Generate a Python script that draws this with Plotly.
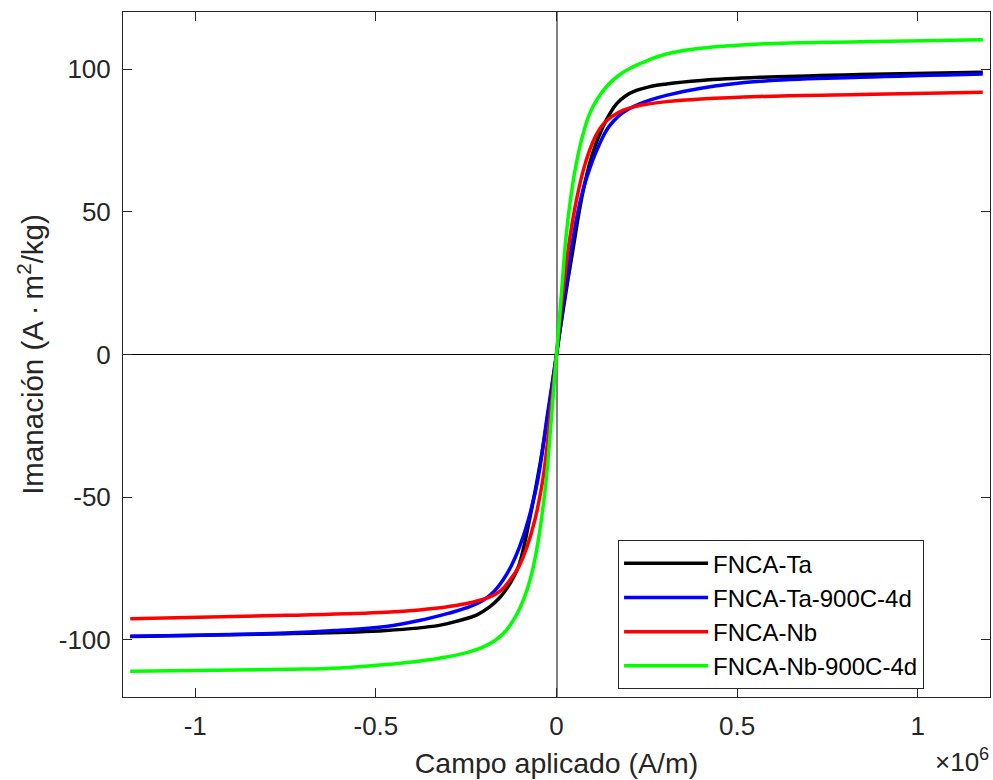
import numpy as np
import plotly.graph_objects as go

# Applied field H in units of 10^6 A/m, magnetization M in A·m²/kg
ta_H = [-1.18, -0.75, -0.472, -0.3245, -0.269, -0.22, -0.186, -0.16, -0.135, -0.12, -0.1026, -0.075,
        -0.045, -0.02, 0.0,
        0.02, 0.045, 0.07, 0.0915, 0.108, 0.124, 0.145, 0.166, 0.19, 0.221, 0.26, 0.304, 0.4, 0.563, 0.84, 1.18]
ta_M = [-98.8, -97.8, -96.7, -94.9, -93.2, -91.2, -88.5, -85.6, -81.5, -78.3, -73.3, -58.0,
        -38.0, -18.0, 0.0,
        17.0, 36.4, 55.0, 66.8, 73.5, 78.5, 83.8, 87.8, 90.5, 92.5, 93.9, 94.8, 96.0, 97.1, 98.1, 98.9]

ta900_H = [-1.18, -0.75, -0.6, -0.472, -0.38, -0.3, -0.25, -0.204, -0.175, -0.149, -0.125, -0.1026,
           -0.077, -0.052, -0.025, 0.0,
           0.02, 0.045, 0.07, 0.1, 0.12, 0.138, 0.158, 0.179, 0.2, 0.23, 0.26, 0.304, 0.4, 0.563, 0.84, 1.18]
ta900_M = [-98.7, -97.6, -96.6, -95.3, -93.2, -90.7, -88.8, -86.2, -83.3, -79.2, -74.0, -67.5,
           -57.5, -44.0, -21.0, 0.0,
           18.0, 40.0, 56.0, 68.0, 74.0, 78.5, 81.8, 84.3, 86.0, 87.8, 89.2, 90.8, 93.3, 95.7, 97.1, 98.3]

nb_H = [-1.18, -0.75, -0.472, -0.38, -0.297, -0.24, -0.186, -0.155, -0.130, -0.105, -0.082, -0.06,
        -0.038, -0.018, 0.0,
        0.018, 0.036, 0.055, 0.073, 0.09, 0.11, 0.13, 0.155, 0.185, 0.221, 0.26, 0.304, 0.4, 0.563, 0.84, 1.18]
nb_M = [-92.6, -91.4, -90.3, -89.5, -88.3, -87.0, -85.0, -82.8, -79.2, -74.5, -67.5, -58.0,
        -44.0, -22.0, 0.0,
        22.0, 40.0, 54.0, 64.0, 71.0, 77.0, 80.8, 83.5, 85.6, 87.0, 87.9, 88.6, 89.5, 90.4, 91.1, 91.9]

nb900_H = [-1.18, -0.75, -0.6, -0.472, -0.4, -0.3245, -0.26, -0.204, -0.17, -0.1395, -0.112, -0.0888,
           -0.07, -0.0536, -0.041, -0.0286, -0.014, 0.0,
           0.014, 0.027, 0.04, 0.0546, 0.072, 0.0915, 0.113, 0.138, 0.168, 0.2025, 0.25, 0.304, 0.4,
           0.563, 0.84, 1.18]
nb900_M = [-111.0, -110.3, -109.8, -108.6, -107.7, -106.4, -104.8, -102.5, -100.2, -96.7, -91.5, -85.0,
           -77.5, -67.5, -57.0, -44.0, -22.0, 0.0,
           22.0, 42.0, 55.5, 66.8, 76.5, 84.3, 89.5, 93.8, 97.4, 100.2, 102.9, 105.3, 107.3,
           108.8, 109.6, 110.3]

series_names = ["FNCA-Ta", "FNCA-Ta-900C-4d", "FNCA-Nb", "FNCA-Nb-900C-4d"]
series_colors = ["#000000", "#0000ff", "#ff0000", "#00ff00"]
series_H = [ta_H, ta900_H, nb_H, nb900_H]
series_M = [ta_M, ta900_M, nb_M, nb900_M]

x_tickvals = [-1.0, -0.5, 0.0, 0.5, 1.0]
x_ticktext = ["-1", "-0.5", "0", "0.5", "1"]
y_tickvals = [-100, -50, 0, 50, 100]
y_ticktext = ["-100", "-50", "0", "50", "100"]

SCALE = 1e6
FONT = "Liberation Sans, Arial, Helvetica, sans-serif"
TXT = "#262626"

fig = go.Figure()
for name, col, H, M in zip(series_names, series_colors, series_H, series_M):
    fig.add_trace(go.Scatter(
        x=np.array(H) * SCALE, y=M, mode="lines", name=name,
        line=dict(color=col, width=3.5, shape="spline", smoothing=1.2),
    ))

fig.update_layout(
    width=993, height=780,
    margin=dict(l=123, r=3, t=12, b=83),
    paper_bgcolor="white", plot_bgcolor="white",
    font=dict(family=FONT, color=TXT, size=26),
    showlegend=True,
    legend=dict(
        x=0.571, y=0.229, xanchor="left", yanchor="top",
        bgcolor="white", bordercolor="#262626", borderwidth=1,
        font=dict(family=FONT, size=24, color="#000000"),
        itemwidth=84, tracegroupgap=0,
    ),
)

fig.update_xaxes(
    range=[-1.2 * SCALE, 1.2 * SCALE],
    tickvals=[v * SCALE for v in x_tickvals], ticktext=x_ticktext,
    ticks="inside", ticklen=9, tickcolor="#262626", tickwidth=1,
    showline=True, linecolor="#262626", linewidth=1, mirror="ticks",
    showgrid=False,
    zeroline=True, zerolinecolor="#808080", zerolinewidth=2,
    tickfont=dict(size=26, color=TXT),
    ticklabelstandoff=6,
    title=dict(text="Campo aplicado (A/m)", font=dict(size=28.5, color=TXT), standoff=12),
)
fig.update_yaxes(
    range=[-120, 120],
    tickvals=y_tickvals, ticktext=y_ticktext,
    ticks="inside", ticklen=9, tickcolor="#262626", tickwidth=1,
    showline=True, linecolor="#262626", linewidth=1, mirror="ticks",
    showgrid=False,
    zeroline=True, zerolinecolor="#000000", zerolinewidth=1,
    tickfont=dict(size=26, color=TXT),
    ticklabelstandoff=6,
    title=dict(text="Imanación (A\u2009·\u2009m<sup>2</sup>/kg)", font=dict(size=29.5, color=TXT), standoff=6),
)

fig.add_annotation(
    text="×10<sup>6</sup>", xref="paper", yref="paper", x=1.0, y=0.0,
    xanchor="right", yanchor="top", yshift=-45, xshift=1, showarrow=False,
    font=dict(family=FONT, size=26, color=TXT),
)

fig.write_html("out.html")
